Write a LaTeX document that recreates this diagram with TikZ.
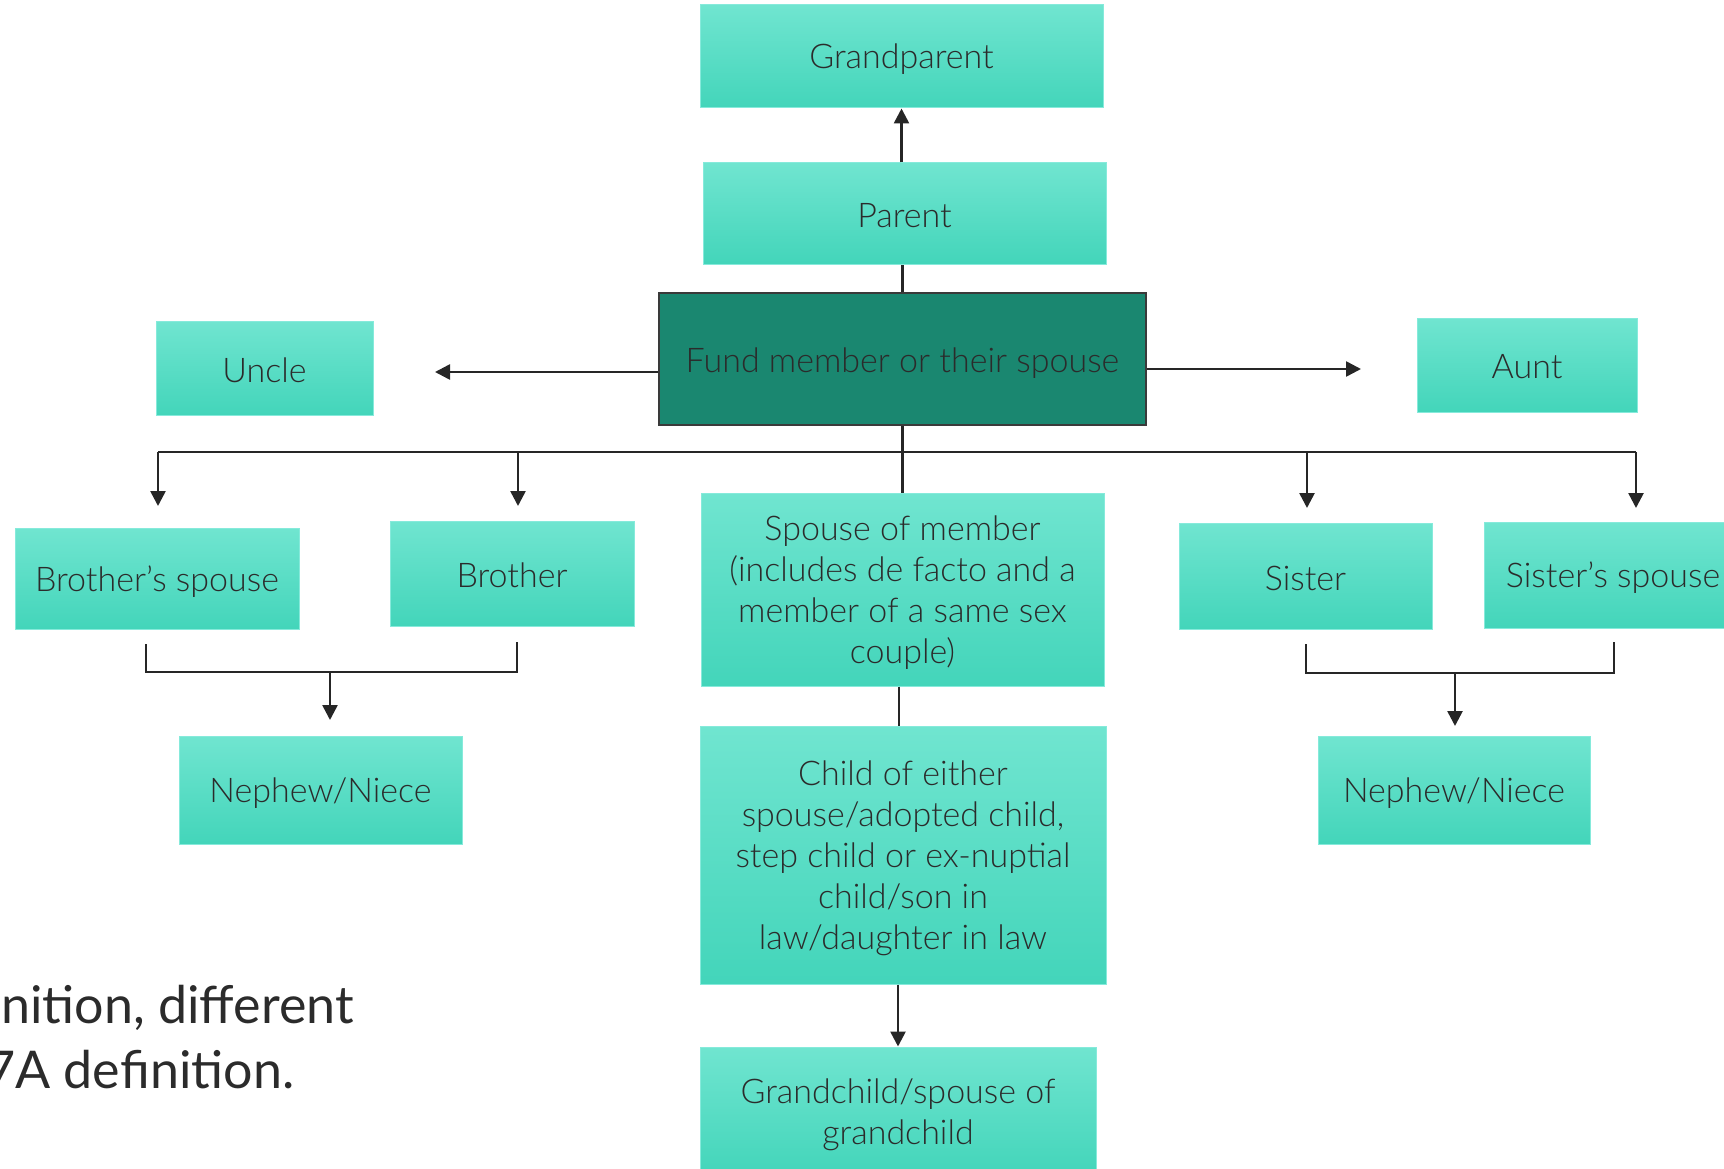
\documentclass[tikz,border=0pt]{standalone}
\usepackage{fontspec}
\IfFontExistsTF{Lato Light}{\setmainfont{Lato Light}}{\setmainfont{Lato}}
\newfontfamily\notefont{Lato}
\usetikzlibrary{arrows.meta}
\definecolor{boxtop}{HTML}{70E5D0}
\definecolor{boxmid}{HTML}{52E8C9}
\definecolor{boxbot}{HTML}{43D5BA}
\definecolor{boxedge}{HTML}{86EADB}
\definecolor{fundfill}{HTML}{1A8770}
\definecolor{fundedge}{HTML}{3A3A3A}
\definecolor{txt}{HTML}{2B2B2B}
\definecolor{linec}{HTML}{262626}
\begin{document}
\begin{tikzpicture}[x=1pt,y=-1pt,
  box/.style={draw=boxedge, line width=1pt, top color=boxtop, middle color=boxmid, bottom color=boxbot,
    inner sep=0pt},
  fundbox/.style={draw=fundedge, line width=1.2pt, fill=fundfill, inner sep=0pt},
  btxt/.style={inner sep=0pt, align=center, text=txt, font=\fontsize{34}{41}\selectfont},
  conn/.style={draw=linec, line width=2.6pt},
  arr/.style={conn, -{Triangle[length=15pt,width=15pt]}},
  note/.style={inner sep=0pt, anchor=base west, text=txt, font=\notefont\fontsize{52}{65}\selectfont}]
\useasboundingbox (0,0) rectangle (1724,1169);
\clip (0,0) rectangle (1724,1169);

% boxes
\node[box, minimum width=403pt, minimum height=103pt] (gp) at (901.5,56.5) {};
\node[box, minimum width=403pt, minimum height=101pt] (par) at (904.5,213.5) {};
\node[fundbox, minimum width=487pt, minimum height=132pt] (fund) at (902.5,359) {};
\node[box, minimum width=217pt, minimum height=94pt] (uncle) at (264.5,368) {};
\node[box, minimum width=220pt, minimum height=94pt] (aunt) at (1527,365) {};
\node[box, minimum width=284pt, minimum height=101pt] (bs) at (157,578.5) {};
\node[box, minimum width=244pt, minimum height=105pt] (bro) at (512,573.5) {};
\node[box, minimum width=403pt, minimum height=193pt] (sp) at (902.5,589.5) {};
\node[box, minimum width=253pt, minimum height=106pt] (sis) at (1305.5,576) {};
\node[box, minimum width=258pt, minimum height=106pt] (ss) at (1613,575) {};
\node[box, minimum width=283pt, minimum height=108pt] (nl) at (320.5,790) {};
\node[box, minimum width=272pt, minimum height=108pt] (nr) at (1454,790) {};
\node[box, minimum width=406pt, minimum height=258pt] (ch) at (903,855) {};
\node[box, minimum width=396pt, minimum height=128pt] (gc) at (898,1111) {};

% texts
\node[btxt] (gpT) at ([yshift=-3pt]gp.center) {Grandparent};
\node[btxt] (parT) at ([yshift=-2pt]par.center) {Parent};
\node[btxt] (fundT) at ([yshift=-4pt]fund.center) {Fund member or their spouse};
\node[btxt] (uncleT) at ([yshift=-2pt]uncle.center) {Uncle};
\node[btxt] (auntT) at ([yshift=-2pt]aunt.center) {Aunt};
\node[btxt] (bsT) at ([yshift=-3pt]bs.center) {Brother’s spouse};
\node[btxt] (broT) at ([yshift=-2pt]bro.center) {Brother};
\node[btxt] (spT) at ([yshift=-3pt]sp.center)
  {Spouse of member\\(includes de facto and a\\member of a same sex\\couple)};
\node[btxt] (sisT) at ([yshift=-2pt]sis.center) {Sister};
\node[btxt] (ssT) at ([yshift=-3pt]ss.center) {Sister’s spouse};
\node[btxt] (nlT) at ([yshift=-3pt]nl.center) {Nephew/Niece};
\node[btxt] (nrT) at ([yshift=-3pt]nr.center) {Nephew/Niece};
\node[btxt] (chT) at ([yshift=-3pt]ch.center)
  {Child of either\\spouse/adopted child,\\step child or ex-nuptial\\child/son in\\law/daughter in law};
\node[btxt] (gcT) at ([yshift=-4pt]gc.center)
  {Grandchild/spouse of\\grandchild};

\node[note] (note1) at (1,1023) {nition, different};
\node[note] (note2) at (-15,1088) {7A definition.};

% free ends
\coordinate (uend) at (435,372);
\coordinate (aend) at (1361,369);
\coordinate (busL) at (158,452);
\coordinate (busR) at (1636,452);
\coordinate (busB) at (518,452);
\coordinate (busS) at (1307,452);
\coordinate (tipBS) at (158,506);
\coordinate (tipB) at (518,506);
\coordinate (tipS) at (1307,508);
\coordinate (tipSS) at (1636,508);
\coordinate (lbA) at (146,644);
\coordinate (lbB) at (517,642);
\coordinate (lbJ) at (330,672);
\coordinate (lbT) at (330,720);
\coordinate (rbA) at (1306,644);
\coordinate (rbB) at (1614,642);
\coordinate (rbJ) at (1455,673);
\coordinate (rbT) at (1455,726);

% connectors
\draw[arr] (gp.south |- par.north) -- (gp.south);
\draw[conn] (fund.north) -- (fund.north |- par.south);
\draw[arr] (fund.west |- uend) -- (uend);
\draw[arr] (fund.east |- aend) -- (aend);
\draw[conn] (fund.south) -- (fund.south |- sp.north);
\draw[conn] (busL) -- (busR);
\draw[arr] (busL) -- (tipBS);
\draw[arr] (busB) -- (tipB);
\draw[arr] (busS) -- (tipS);
\draw[arr] (busR) -- (tipSS);
\draw[conn] (lbA) -- (lbA |- lbJ) -- (lbB |- lbJ) -- (lbB);
\draw[arr] (lbJ) -- (lbT);
\draw[conn] (rbA) -- (rbA |- rbJ) -- (rbB |- rbJ) -- (rbB);
\draw[arr] (rbJ) -- (rbT);
\draw[conn] (sp.south -| 899,0) -- (ch.north -| 899,0);
\draw[arr] (ch.south -| gc.north) -- (gc.north);
\end{tikzpicture}
\end{document}
